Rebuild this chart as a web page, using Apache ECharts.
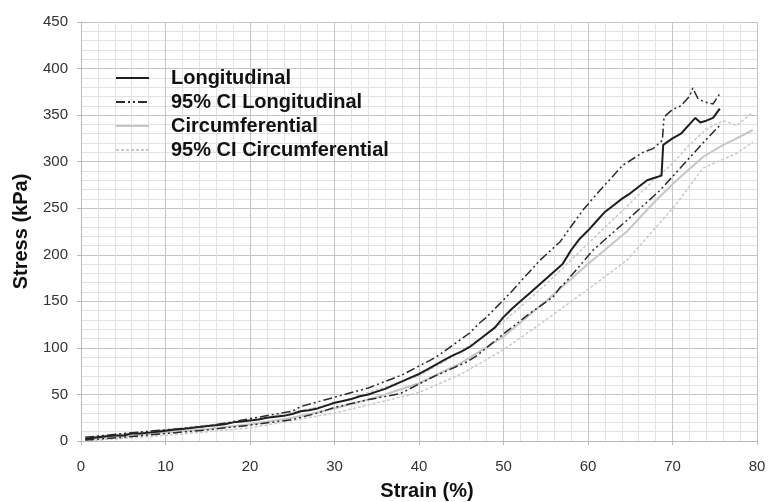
<!DOCTYPE html>
<html>
<head>
<meta charset="utf-8">
<script src="https://cdn.jsdelivr.net/npm/echarts@6/dist/echarts.min.js"></script>
<style>
html,body{margin:0;padding:0;background:#fff;}
#main{width:768px;height:502px;}
</style>
</head>
<body>
<div id="main"></div>
<script>
// longitudinal mean
var strainL = [0.5,1,2,3,4,5,6,7,8,9,10,11,12,13,14,15,16,17,18,19,20,21,22,23,24,25,26,27,28,29,30,31,32,33,34,35,36,37,38,39,40,41,42,43,44,45,46,47,48,49,50,51,52,53,54,55,56,57,58,59,60,61,62,63,64,65,66,67,68,68.7,68.9,70,71,72,72.7,73.3,74,74.8,75.6];
var stressL = [2,3,4,5,6,6,8,8,9,10,11,12,13,14,15,16,17,18,20,21,22,23,25,26,27,29,32,33,35,38,41,43,45,48,50,53,56,60,64,68,72,77,82,87,92,96,101,108,115,122,133,142,150,158,166,174,182,190,205,217,226,236,246,253,260,266,273,280,283,285,318,325,330,340,347,342,344,347,357];

// 95% CI longitudinal, upper and lower
var strainLU = [0.5,5,10,15,20,25,26,30,34,38,42,46,47.2,48,50.8,54.3,56.7,59.4,61.4,64.1,66.5,67.7,68.8,69,70,71,72,72.4,73,73.8,74.8,75.6];
var stressLU = [4,8,12,16,24,32,37,47,57,71,90,116,127,133,159,194,214,248,269,296,310,314,323,348,356,360,370,379,368,364,362,373];
var strainLL = [0.5,5,10,15,20,25,28,30,33.8,37.8,41.7,45.7,46.9,50,53.1,55.9,56.7,57.5,60.6,64.6,68.5,71.7,73.6,75.6];
var stressLL = [1,4,8,12,17,23,30,36,44,51,69,85,92,115,137,155,165,172,205,237,269,301,320,339];

// circumferential mean
var strainC = [0.5,5,10,15,20,25,30,35,40,45,50,55,60,64.6,68,70.5,73.6,76,77.6,79.5];
var stressC = [2,5,9,13,18,25,35,47,62,84,112,150,190,225,258,280,305,318,325,334];

// 95% CI circumferential, upper and lower
var strainCU = [0.5,10,20,30,40,45,50,55,60,64.6,68,70,72,74,76,77.6,79.5];
var stressCU = [4,12,22,40,70,96,128,168,212,252,282,298,318,335,344,339,353];
var strainCL = [0.5,10,20,30,40,45,50,55,60,64.6,70.5,73.6,77.6,79.5];
var stressCL = [0,6,14,30,52,72,98,130,163,194,255,293,309,321];

var xTicks = [0,10,20,30,40,50,60,70,80];
var yTicks = [0,50,100,150,200,250,300,350,400,450];

function pairs(xs, ys){
  var out = [];
  for (var i = 0; i < xs.length; i++) out.push([xs[i], ys[i]]);
  return out;
}

var chart = echarts.init(document.getElementById('main'));

var dashDot = [9,3,2,3,2,3];
var titleFont = {fontFamily: 'Liberation Sans', fontWeight: 'bold', fontSize: 20, color: '#111'};

var option = {
  animation: false,
  backgroundColor: '#fff',
  grid: {left: 81, right: 11, top: 22, bottom: 61, outerBoundsMode: 'none', containLabel: false},
  legend: {
    orient: 'vertical',
    left: 110,
    top: 63,
    itemWidth: 33,
    itemHeight: 4,
    itemGap: 4,
    selectedMode: false,
    itemStyle: {opacity: 0},
    textStyle: {fontFamily: 'Liberation Sans', fontWeight: 'bold', fontSize: 20, color: '#111', padding: [0, 0, 0, 17]},
    data: ['Longitudinal', '95% CI Longitudinal', 'Circumferential', '95% CI Circumferential']
  },
  xAxis: {
    type: 'value',
    min: xTicks[0],
    max: xTicks[xTicks.length - 1],
    interval: 10,
    name: 'Strain (%)',
    nameLocation: 'middle',
    nameGap: 40,
    nameTextStyle: Object.assign({padding: [0, 0, 0, 16]}, titleFont),
    axisLine: {lineStyle: {color: '#b8b8b8'}},
    axisTick: {show: true, length: 4, lineStyle: {color: '#b8b8b8'}},
    axisLabel: {fontFamily: 'Liberation Sans', fontSize: 15, color: '#333', margin: 18},
    splitLine: {lineStyle: {color: '#c4c4c4', width: 1}},
    minorTick: {show: true, splitNumber: 5, length: 0},
    minorSplitLine: {show: true, lineStyle: {color: '#e2e2e2', width: 1}}
  },
  yAxis: {
    type: 'value',
    min: yTicks[0],
    max: yTicks[yTicks.length - 1],
    interval: 50,
    name: 'Stress (kPa)',
    nameLocation: 'middle',
    nameGap: 50,
    nameTextStyle: titleFont,
    axisLine: {show: true, lineStyle: {color: '#b8b8b8'}},
    axisTick: {show: true, length: 4, lineStyle: {color: '#b8b8b8'}},
    axisLabel: {fontFamily: 'Liberation Sans', fontSize: 15, color: '#333', margin: 13},
    splitLine: {lineStyle: {color: '#c4c4c4', width: 1}},
    minorTick: {show: true, splitNumber: 5, length: 0},
    minorSplitLine: {show: true, lineStyle: {color: '#e2e2e2', width: 1}}
  },
  series: [
    {
      name: 'Circumferential', type: 'line', symbol: 'none', z: 2,
      lineStyle: {color: '#c6c6c6', width: 2},
      itemStyle: {color: '#c6c6c6'},
      data: pairs(strainC, stressC)
    },
    {
      name: '95% CI Circumferential', type: 'line', symbol: 'none', z: 2,
      lineStyle: {color: '#c9c9c9', width: 1.5, type: [3, 2]},
      itemStyle: {color: '#c9c9c9'},
      data: pairs(strainCU, stressCU)
    },
    {
      name: '95% CI Circumferential', type: 'line', symbol: 'none', z: 2,
      lineStyle: {color: '#c9c9c9', width: 1.5, type: [3, 2]},
      itemStyle: {color: '#c9c9c9'},
      data: pairs(strainCL, stressCL)
    },
    {
      name: 'Longitudinal', type: 'line', symbol: 'none', z: 3,
      lineStyle: {color: '#1e1e1e', width: 2},
      itemStyle: {color: '#1e1e1e'},
      data: pairs(strainL, stressL)
    },
    {
      name: '95% CI Longitudinal', type: 'line', symbol: 'none', z: 3,
      lineStyle: {color: '#2a2a2a', width: 1.5, type: dashDot},
      itemStyle: {color: '#2a2a2a'},
      data: pairs(strainLU, stressLU)
    },
    {
      name: '95% CI Longitudinal', type: 'line', symbol: 'none', z: 3,
      lineStyle: {color: '#2a2a2a', width: 1.5, type: dashDot},
      itemStyle: {color: '#2a2a2a'},
      data: pairs(strainLL, stressLL)
    }
  ]
};

chart.setOption(option);
</script>
</body>
</html>
